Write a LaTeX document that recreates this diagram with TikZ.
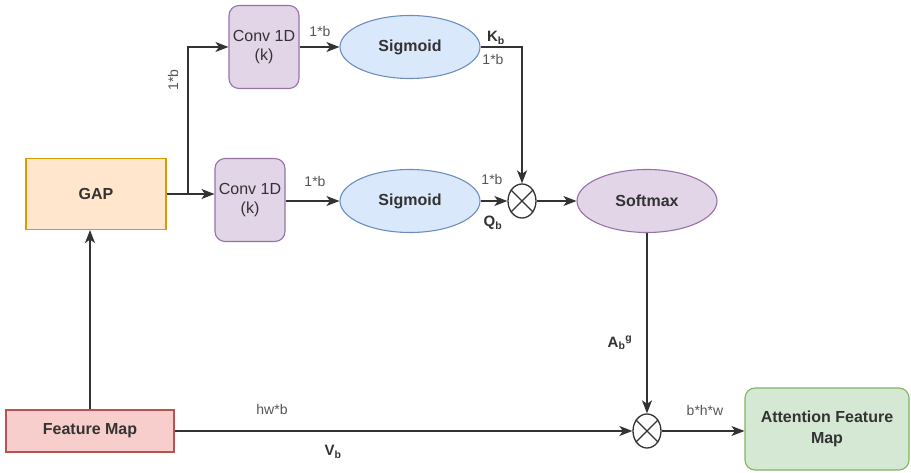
\documentclass[tikz,border=0pt]{standalone}
\usepackage{fontspec}
\setmainfont{Liberation Sans}
\usetikzlibrary{positioning,shapes.geometric,arrows.meta}

\definecolor{ink}{HTML}{333333}
\definecolor{dimink}{HTML}{555555}
\definecolor{gapfill}{HTML}{FFE6CC}
\definecolor{gapline}{HTML}{D79B00}
\definecolor{fmfill}{HTML}{F8CECC}
\definecolor{fmline}{HTML}{B85450}
\definecolor{purfill}{HTML}{E1D5E7}
\definecolor{purline}{HTML}{9673A6}
\definecolor{bluefill}{HTML}{DAE8FC}
\definecolor{blueline}{HTML}{6C8EBF}
\definecolor{grnfill}{HTML}{D5E8D4}
\definecolor{grnline}{HTML}{82B366}

\tikzset{
  base/.style={line width=1.1pt, text=ink, inner sep=0pt,
    font=\fontsize{16}{19}\selectfont},
  gapbox/.style={base, draw=gapline, fill=gapfill, minimum width=140pt,
    minimum height=71pt, font=\fontsize{16}{19}\selectfont\bfseries},
  fmbox/.style={base, draw=fmline, fill=fmfill, minimum width=168pt,
    minimum height=42pt, font=\fontsize{16}{19}\selectfont\bfseries},
  convbox/.style={base, draw=purline, fill=purfill, rounded corners=10pt,
    minimum width=70pt, minimum height=83pt, align=center},
  sigm/.style={base, ellipse, draw=blueline, fill=bluefill, minimum width=140pt,
    minimum height=63pt, font=\fontsize{16}{19}\selectfont\bfseries},
  softm/.style={base, ellipse, draw=purline, fill=purfill, minimum width=140pt,
    minimum height=63pt, font=\fontsize{16}{19}\selectfont\bfseries},
  attnbox/.style={base, draw=grnline, fill=grnfill, rounded corners=10pt,
    minimum width=164pt, minimum height=82pt, align=center,
    font=\fontsize{16}{21}\selectfont\bfseries},
  mult/.style={base, ellipse, draw=ink, line width=1.3pt, minimum width=28pt,
    minimum height=34pt},
  arr/.style={draw=ink, line width=1.4pt,
    -{Stealth[length=13pt, width=10pt, inset=3.5pt]}},
  wire/.style={draw=ink, line width=1.4pt},
  dimlbl/.style={text=dimink, inner sep=1pt, font=\fontsize{14}{16}\selectfont},
  keylbl/.style={text=ink, inner sep=1pt, font=\fontsize{15}{17}\selectfont\bfseries}
}

\newcommand{\crossmark}[1]{%
  \draw[ink, line width=1.3pt] (#1.45) -- (#1.225) (#1.135) -- (#1.315);}

\begin{document}
\begin{tikzpicture}[x=1pt, y=-1pt]
  \useasboundingbox (0,0) rectangle (911,473);

  % input and pooling
  \node[fmbox] (fm) at (90,431) {Feature Map};
  \node[gapbox] (gap) at (96,194) {GAP};

  % two conv + sigmoid branches
  \node[convbox] (conva) at (264,47) {Conv 1D\\(k)};
  \node[convbox] (convb) at (250,200) {Conv 1D\\(k)};
  \node[sigm] (siga) at (410,47) {Sigmoid};
  \node[sigm] (sigb) at (410,201) {Sigmoid};

  % product, softmax, second product
  \node[mult] (mula) at (522,201) {};
  \crossmark{mula}
  \node[softm] (soft) at (647,201) {Softmax};
  \node[mult] (mulb) at (647,431) {};
  \crossmark{mulb}

  % output
  \node[attnbox] (afm) at (827,429) {Attention Feature\\Map};

  % connections
  \coordinate (split) at (188,194);
  \draw[arr] (fm.north) -- (fm.north |- gap.south);
  \draw[wire] (gap.east) -- (split);
  \draw[arr] (split) -- (split -| convb.west);
  \draw[arr] (split) |- (conva.west);
  \draw[arr] (conva.east) -- (siga.west);
  \draw[arr] (convb.east |- sigb.west) -- (sigb.west);
  \draw[arr] (siga.east) -| (mula.north);
  \draw[arr] (sigb.east) -- (mula.west);
  \draw[arr] (mula.east) -- (soft.west);
  \draw[arr] (soft.south) -- (mulb.north);
  \draw[arr] (fm.east |- mulb.west) -- (mulb.west);
  \draw[arr] (mulb.east) -- (mulb.east -| afm.west);

  % labels
  \node[dimlbl, rotate=90] (lsplit) at (173,80) {1*b};
  \node[dimlbl] (lconva) at (320,31) {1*b};
  \node[dimlbl] (lconvb) at (315,181) {1*b};
  \node[keylbl] (lk) at (496,38) {K\textsubscript{b}};
  \node[dimlbl] (lka) at (493,59) {1*b};
  \node[dimlbl] (lqa) at (492,179) {1*b};
  \node[keylbl] (lq) at (493,223) {Q\textsubscript{b}};
  \node[keylbl] (la) at (620,343) {A\textsubscript{b}\textsuperscript{g}};
  \node[dimlbl] (lhw) at (272,409) {hw*b};
  \node[keylbl] (lv) at (333,452) {V\textsubscript{b}};
  \node[dimlbl] (lbhw) at (705,410) {b*h*w};
\end{tikzpicture}
\end{document}
